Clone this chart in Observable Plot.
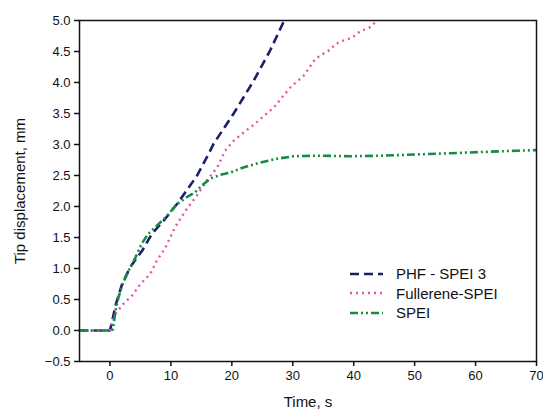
<!DOCTYPE html>
<html>
<head>
<meta charset="utf-8">
<script src="https://cdn.jsdelivr.net/npm/d3@7"></script>
<script src="https://cdn.jsdelivr.net/npm/@observablehq/plot@0.6"></script>
<style>
  html, body { margin: 0; padding: 0; background: #fff; }
  #wrap { position: relative; width: 543px; height: 409px; font-family: "Liberation Sans", Arial, sans-serif; }
  #legend { position: absolute; left: 350px; top: 264px; font-size: 15px; color: #111; }
  .row { display: flex; align-items: center; height: 19.5px; }
  .row svg { width: 33px; height: 12px; margin-right: 13px; }
</style>
</head>
<body>
<div id="wrap"></div>
<script>
// ---- data ----
const xTicks = [0, 10, 20, 30, 40, 50, 60, 70];
const yTicks = [-0.5, 0, 0.5, 1, 1.5, 2, 2.5, 3, 3.5, 4, 4.5, 5];

const seriesNames = ["PHF - SPEI 3", "Fullerene-SPEI", "SPEI"];
const seriesColors = ["#1b1f6b", "#e056aa", "#168a47"];
const seriesDash = ["9,5", "2,4", "8,3,2,3,2,3"];
const seriesWidth = [2.6, 2.4, 2.6];

const phfTime = [-5, -2.5, 0, 0.3, 0.9, 2.0, 3.3, 5.3, 6.9, 8.8, 11.0, 12.6, 14.3, 16.2, 17.0, 20.3, 23.6, 26.3, 28.5];
const phfDisp = [0, 0, 0, 0.12, 0.40, 0.75, 1.02, 1.29, 1.56, 1.77, 2.04, 2.26, 2.50, 2.85, 3.01, 3.50, 4.03, 4.52, 4.98];

const fullTime = [-5, -2.5, 0, 0.3, 0.9, 2.2, 3.6, 5.0, 6.6, 7.7, 9.1, 10.7, 12.6, 14.3, 15.9, 17.6, 18.9, 20.3, 21.4, 24.1, 26.9, 29.6, 31.8, 33.7, 35.4, 36.2, 37.0, 38.4, 39.7, 41.1, 42.5, 43.8];
const fullDisp = [0, 0, 0, 0.12, 0.27, 0.43, 0.56, 0.75, 0.91, 1.13, 1.34, 1.67, 1.96, 2.18, 2.42, 2.63, 2.90, 3.06, 3.15, 3.36, 3.60, 3.92, 4.11, 4.38, 4.49, 4.53, 4.62, 4.68, 4.72, 4.83, 4.88, 4.99];

const speiTime = [-5, -2.5, 0, 0.5, 0.9, 1.4, 2.2, 3.1, 4.2, 5.2, 6.3, 7.7, 9.4, 11.0, 12.6, 14.0, 15.1, 16.5, 18.1, 19.8, 21.9, 24.7, 27.4, 30.1, 34.0, 39.5, 44.9, 50.4, 55.9, 61.3, 66.8, 70];
const speiDisp = [0, 0, 0, 0.02, 0.32, 0.54, 0.78, 0.97, 1.18, 1.40, 1.56, 1.69, 1.85, 2.04, 2.15, 2.23, 2.34, 2.45, 2.51, 2.55, 2.63, 2.71, 2.77, 2.81, 2.82, 2.81, 2.82, 2.84, 2.86, 2.88, 2.90, 2.91];

// ---- build tables ----
const times = [phfTime, fullTime, speiTime];
const disps = [phfDisp, fullDisp, speiDisp];
const tables = seriesNames.map((name, i) => times[i].map((t, j) => ({ t, d: disps[i][j], name })));

const font = "'Liberation Sans', Arial, sans-serif";

const chart = Plot.plot({
  width: 543,
  height: 409,
  marginLeft: 79,
  marginRight: 7,
  marginTop: 20,
  marginBottom: 48,
  style: { fontFamily: font, fontSize: "13px", color: "#111", background: "#fff", overflow: "visible" },
  x: { domain: [-5, 70], label: null },
  y: { domain: [-0.5, 5], label: null },
  marks: [
    ...tables.map((tab, i) => Plot.line(tab, {
      x: "t", y: "d",
      stroke: seriesColors[i],
      strokeWidth: seriesWidth[i],
      strokeDasharray: seriesDash[i],
      strokeLinecap: "butt",
      clip: true
    })),
    Plot.axisX({ ticks: xTicks, tickSize: 5, tickPadding: 4, label: null, fontSize: 13, stroke: "#111", strokeWidth: 1.5 }),
    Plot.axisX({ ticks: [], label: "Time, s", labelArrow: "none", labelAnchor: "center", labelOffset: 45, fontSize: 15 }),
    Plot.axisY({ ticks: yTicks, tickSize: 5, tickPadding: 4, tickFormat: d3.format(".1f"), label: null, fontSize: 13, stroke: "#111", strokeWidth: 1.5 }),
    Plot.axisY({ ticks: [], label: "Tip displacement, mm", labelArrow: "none", labelAnchor: "center", labelOffset: 65, fontSize: 15 }),
    Plot.frame({ stroke: "#111", strokeWidth: 1.5 })
  ]
});

const wrap = document.getElementById("wrap");
wrap.appendChild(chart);

// legend
const legend = document.createElement("div");
legend.id = "legend";
seriesNames.forEach((name, i) => {
  const row = document.createElement("div");
  row.className = "row";
  row.innerHTML = `<svg viewBox="0 0 33 12"><line x1="0" y1="6" x2="33" y2="6" stroke="${seriesColors[i]}" stroke-width="${seriesWidth[i]}" stroke-dasharray="${seriesDash[i]}"/></svg><span>${name}</span>`;
  legend.appendChild(row);
});
wrap.appendChild(legend);
</script>
</body>
</html>
